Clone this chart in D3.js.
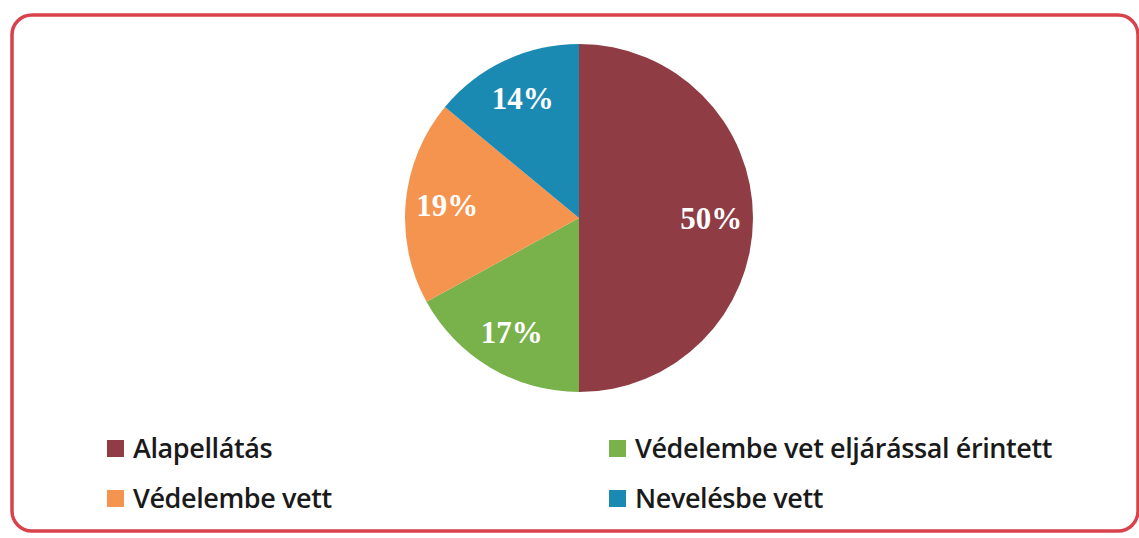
<!DOCTYPE html>
<html>
<head>
<meta charset="utf-8">
<script src="https://cdn.jsdelivr.net/npm/d3@7"></script>
<style>
  html, body { margin: 0; padding: 0; background: #fff; }
  svg { display: block; }
</style>
</head>
<body>
<svg id="chart" width="1139" height="538"></svg>
<script>
const categories = ["Alapellátás", "Védelembe vet eljárással érintett", "Védelembe vett", "Nevelésbe vett"];
const values = [50, 17, 19, 14];
const labels = ["50%", "17%", "19%", "14%"];
const colors = ["#8f3c45", "#79b14b", "#f5944f", "#1b8ab3"];

const svg = d3.select("#chart");

// frame
svg.append("rect")
  .attr("x", 12).attr("y", 15)
  .attr("width", 1126).attr("height", 516)
  .attr("rx", 20).attr("ry", 20)
  .attr("fill", "#fff")
  .attr("stroke", "#d9424b")
  .attr("stroke-width", 3.5);

const cx = 579, cy = 218, r = 174;
const g = svg.append("g").attr("transform", `translate(${cx},${cy})`);

const pie = d3.pie().sort(null).value(d => d)(values);
const arc = d3.arc().innerRadius(0).outerRadius(r);
const labelArc = d3.arc().innerRadius(r * 0.76).outerRadius(r * 0.76);

g.selectAll("path.slice").data(pie).enter().append("path")
  .attr("class", "slice")
  .attr("d", arc)
  .attr("fill", (d, i) => colors[i]);

g.selectAll("text.lbl").data(pie).enter().append("text")
  .attr("class", "lbl")
  .attr("transform", (d) => {
    const c = labelArc.centroid(d);
    return `translate(${c[0]},${c[1]})`;
  })
  .attr("text-anchor", "middle")
  .attr("dy", "0.35em")
  .attr("fill", "#fff")
  .attr("font-family", "'Liberation Serif', 'Times New Roman', serif")
  .attr("font-weight", "bold")
  .attr("font-size", 31)
  .text((d, i) => labels[i]);

// legend
const legendCols = [107, 609];
const legendRows = [458, 508];
const legend = svg.append("g");
categories.forEach((name, i) => {
  const col = i % 2, row = Math.floor(i / 2);
  const x = legendCols[col], y = legendRows[row];
  legend.append("rect")
    .attr("x", x).attr("y", y - 18)
    .attr("width", 17).attr("height", 17)
    .attr("fill", colors[i]);
  legend.append("text")
    .attr("x", x + 26).attr("y", y)
    .attr("font-family", "'Open Sans', 'Noto Sans', sans-serif")
    .attr("font-weight", 600)
    .attr("font-size", 27)
    .attr("letter-spacing", -0.4)
    .attr("fill", "#1a1a1a")
    .text(name);
});
</script>
</body>
</html>
